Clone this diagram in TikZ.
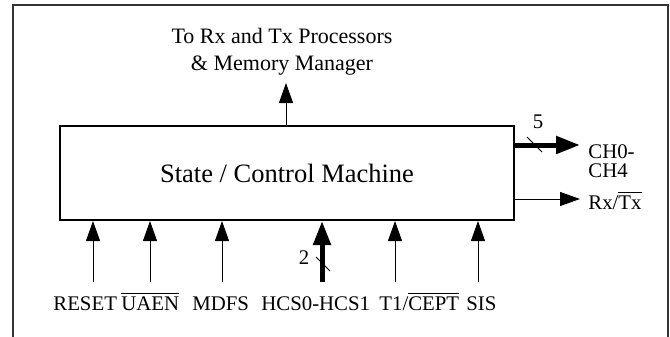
\documentclass[tikz,border=0pt]{standalone}
\usepackage{fontspec}
\setmainfont{Liberation Serif}
\usetikzlibrary{arrows.meta}
\tikzstyle{block} = [rectangle, draw=black, line width=1pt, minimum width=227pt, minimum height=47pt, inner sep=0pt, font=\fontsize{13.25}{15}\selectfont]
\tikzstyle{lbl} = [inner sep=0pt, font=\fontsize{10.4}{12}\selectfont]
\tikzstyle{toplbl} = [inner sep=0pt, align=center, font=\fontsize{11}{13.5}\selectfont]
\tikzstyle{sig} = [line width=0.5pt, -{Triangle[length=10pt,width=7pt]}]
\tikzstyle{bus} = [line width=2.5pt, -{Triangle[length=12pt,width=8.5pt]}]
\tikzstyle{tick} = [line width=0.4pt]
\newcommand{\negsig}[1]{$\overline{\mbox{#1}}$}

\begin{document}
\begin{tikzpicture}[x=0.5pt, y=-0.5pt]
		\useasboundingbox (0,0) rectangle (670,337);
		\draw [line width=0.6pt, black!80] (13,337) -- (13,5) -- (668,5) -- (668,337);

		\node (fsm) [block] at (287,173) {State / Control Machine};
		\node (dest) [toplbl, anchor=north] at (282,28) {To Rx and Tx Processors\\\& Memory Manager};
		\coordinate (desttip) at (286,83);

		% outputs
		\node (chan) [lbl, anchor=north west, align=left, font=\fontsize{10.4}{9.5}\selectfont] at (588,144) {CH0-\\CH4};
		\node (rxtx) [lbl, anchor=base west] at (588,209) {Rx/\negsig{Tx}};
		\coordinate (chantip) at (580,145);
		\coordinate (rxtxtip) at (580,199);
		\node (five) [lbl] at (538,122) {5};

		% inputs
		\node (reset) [lbl, anchor=base west] at (53,310) {RESET};
		\node (uaen) [lbl, anchor=base west] at (121,310) {\negsig{UAEN}};
		\node (mdfs) [lbl, anchor=base west] at (192,310) {MDFS};
		\node (hcs) [lbl, anchor=base west] at (261,310) {HCS0-HCS1};
		\node (cept) [lbl, anchor=base west] at (379,310) {T1/\negsig{CEPT}};
		\node (sis) [lbl, anchor=base west] at (466,310) {SIS};
		\node (two) [lbl] at (304,258) {2};
		\coordinate (resetin) at (93,282);
		\coordinate (uaenin) at (150,282);
		\coordinate (mdfsin) at (222,282);
		\coordinate (hcsin) at (322,282);
		\coordinate (ceptin) at (395,282);
		\coordinate (sisin) at (478,282);

		\draw [sig] (fsm.north -| desttip) -- (desttip);
		\draw [bus] (fsm.east |- chantip) -- (chantip);
		\draw [sig] (fsm.east |- rxtxtip) -- (rxtxtip);
		\draw [tick] (527,137) -- (542,152);

		\draw [sig] (resetin) -- (resetin |- fsm.south);
		\draw [sig] (uaenin) -- (uaenin |- fsm.south);
		\draw [sig] (mdfsin) -- (mdfsin |- fsm.south);
		\draw [bus] (hcsin) -- (hcsin |- fsm.south);
		\draw [sig] (ceptin) -- (ceptin |- fsm.south);
		\draw [sig] (sisin) -- (sisin |- fsm.south);
		\draw [tick] (316,257) -- (330,271);
	\end{tikzpicture}
\end{document}
